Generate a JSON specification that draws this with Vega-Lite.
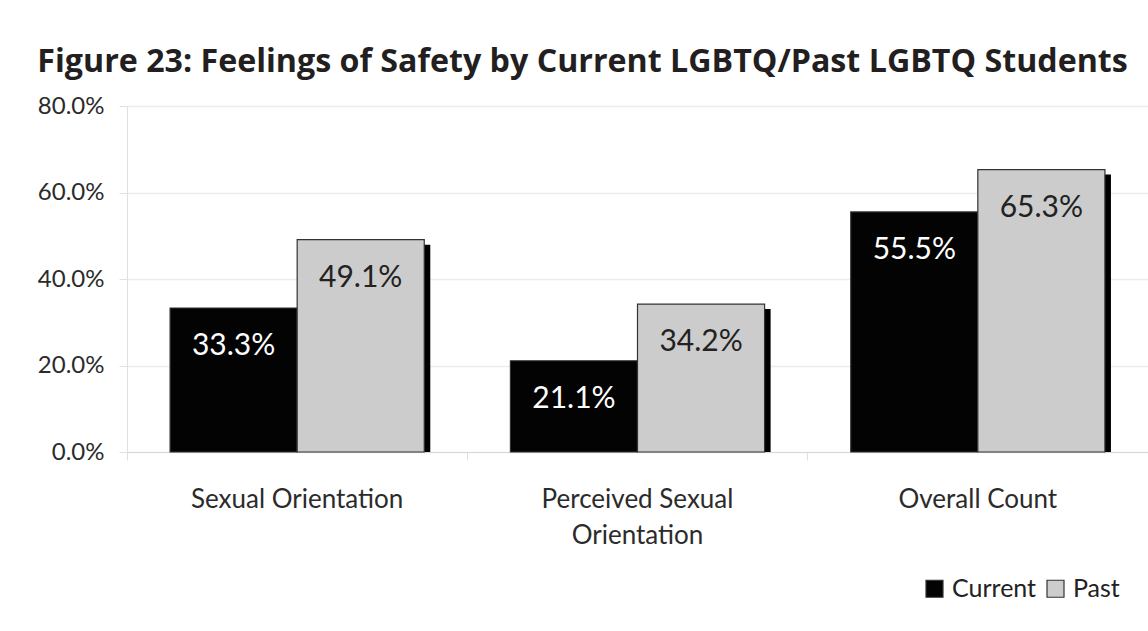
{
  "$schema": "https://vega.github.io/schema/vega-lite/v6.json",
  "width": 1021,
  "height": 346,
  "padding": {"left": 37, "top": 45, "right": 0, "bottom": 5},
  "background": "white",
  "title": {
    "text": "Figure 23: Feelings of Safety by Current LGBTQ/Past LGBTQ Students",
    "font": "Open Sans",
    "fontWeight": "bold",
    "fontSize": 32.2,
    "color": "#231f20",
    "anchor": "start",
    "frame": "bounds",
    "offset": 15
  },
  "data": {
    "values": [
      {"group": "Sexual Orientation", "series": "Current", "value": 0.333},
      {"group": "Sexual Orientation", "series": "Past", "value": 0.491},
      {"group": "Perceived Sexual Orientation", "series": "Current", "value": 0.211},
      {"group": "Perceived Sexual Orientation", "series": "Past", "value": 0.342},
      {"group": "Overall Count", "series": "Current", "value": 0.555},
      {"group": "Overall Count", "series": "Past", "value": 0.653}
    ]
  },
  "encoding": {
    "x": {
      "field": "group",
      "type": "nominal",
      "sort": null,
      "title": null,
      "scale": {"paddingInner": 0, "paddingOuter": 0},
      "axis": {
        "bandPosition": 0,
        "labelAngle": 0,
        "labelFont": "Lato",
        "labelFontSize": 26,
        "labelColor": "#2b2b2b",
        "labelPadding": 26,
        "labelLineHeight": 36,
        "labelLimit": 400,
        "labelExpr": "datum.label == 'Perceived Sexual Orientation' ? ['Perceived Sexual', 'Orientation'] : datum.label",
        "tickSize": 8,
        "tickColor": "#e0e0e0",
        "domainColor": "#d9d9d9",
        "grid": false
      }
    },
    "xOffset": {
      "field": "series",
      "type": "nominal",
      "sort": ["Current", "Past"],
      "scale": {"type": "band", "paddingInner": 0, "paddingOuter": 0.339}
    },
    "y": {
      "field": "value",
      "type": "quantitative",
      "title": null,
      "scale": {"domain": [0, 0.8]},
      "axis": {
        "values": [0, 0.2, 0.4, 0.6, 0.8],
        "format": ".1%",
        "labelFont": "Lato",
        "labelFontSize": 24,
        "labelColor": "#2b2b2b",
        "labelPadding": 15,
        "tickSize": 8,
        "tickColor": "#e0e0e0",
        "domainColor": "#e0e0e0",
        "gridColor": "#ececec",
        "gridWidth": 1.5
      }
    }
  },
  "layer": [
    {
      "mark": {"type": "bar", "color": "#000000", "yOffset": 5},
      "encoding": {
        "xOffset": {
          "field": "series",
          "type": "nominal",
          "sort": ["Current", "Past"],
          "scale": {"type": "band", "paddingInner": 0, "paddingOuter": 0.339, "align": 0.57}
        },
        "y2": {"datum": 0}
      }
    },
    {
      "mark": {"type": "bar", "stroke": "#333333", "strokeWidth": 1.2},
      "encoding": {
        "color": {
          "field": "series",
          "type": "nominal",
          "sort": ["Current", "Past"],
          "scale": {"domain": ["Current", "Past"], "range": ["#030303", "#cccccc"]},
          "legend": {
            "title": null,
            "orient": "none",
            "legendX": 795,
            "legendY": 470,
            "direction": "horizontal",
            "symbolType": "square",
            "symbolSize": 289,
            "symbolStrokeColor": "#333333",
            "symbolStrokeWidth": 1.2,
            "labelFont": "Lato",
            "labelFontSize": 25,
            "labelColor": "#222222",
            "columnPadding": 6,
            "labelOffset": 5
          }
        }
      }
    },
    {
      "mark": {"type": "text", "font": "Lato", "fontSize": 30, "baseline": "middle", "dy": 38},
      "encoding": {
        "text": {"field": "value", "type": "quantitative", "format": ".1%"},
        "color": {
          "condition": {"test": "datum.series == 'Current'", "value": "#ffffff"},
          "value": "#222222"
        }
      }
    }
  ],
  "resolve": {"scale": {"xOffset": "independent"}},
  "config": {
    "view": {"stroke": null}
  }
}
